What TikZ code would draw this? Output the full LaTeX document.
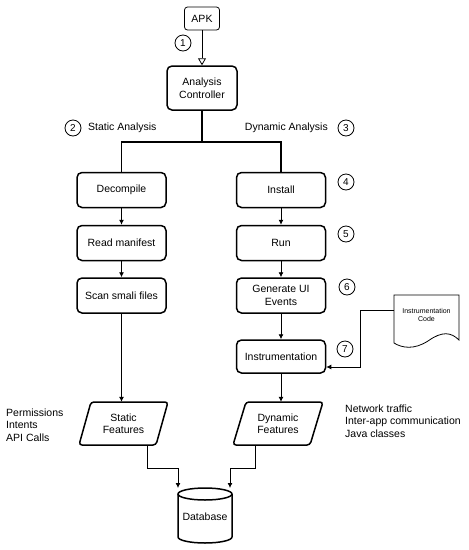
\documentclass[tikz,border=0pt]{standalone}
\usepackage{fontspec}
\setmainfont{Liberation Sans}
\usetikzlibrary{arrows.meta,shapes.geometric}
\begin{document}
\begin{tikzpicture}[x=1pt,y=-1pt,
 box/.style={draw,line width=1.5pt,rounded corners=5pt,minimum width=89pt,minimum height=35pt,align=center,inner sep=1pt,font=\fontsize{10.5}{12.5}\selectfont},
 num/.style={draw,circle,line width=0.8pt,minimum size=16pt,inner sep=0pt,font=\fontsize{10}{12}\selectfont},
 lbl/.style={font=\fontsize{10.5}{12.5}\selectfont},
 arr/.style={-{Latex[length=5pt,width=5pt]},line width=0.8pt},
 ln/.style={line width=1.5pt}]
\useasboundingbox (0,0) rectangle (469,550);

% top
\node[draw,line width=0.8pt,rounded corners=3pt,minimum width=35pt,minimum height=23pt,lbl] (apk) at (202,18.5) {APK};
\node[box,minimum width=70pt,minimum height=44pt] (ctrl) at (202,88) {Analysis\\Controller};
\draw[line width=0.8pt,-{Triangle[open,length=7pt,width=8pt]}] (apk) -- (ctrl);
\node[num] (n1) at (183,43) {1};

% branch
\coordinate (br) at (202,142);
\node[box] (dec) at (121.5,190) {Decompile};
\node[box] (rm) at (121.5,243) {Read manifest};
\node[box] (scan) at (121.5,295.5) {Scan smali files};
\node[box] (inst) at (281,190) {Install};
\node[box] (run) at (281,243) {Run};
\node[box] (gen) at (281,295.5) {Generate UI\\Events};
\node[box,minimum height=33pt] (instr) at (281,356.5) {Instrumentation};

\draw[ln] (ctrl.south) -- (br);
\draw[ln] (dec.north) |- (br) -| (inst.north);

\node[num] (n2) at (73,128) {2};
\node[lbl,anchor=west,inner sep=0pt] (sa) at (88,128) {Static Analysis};
\node[lbl,anchor=east,inner sep=0pt] (da) at (328,128) {Dynamic Analysis};
\node[num] (n3) at (346,128) {3};
\node[num] (n4) at (346,182) {4};
\node[num] (n5) at (346,234) {5};
\node[num] (n6) at (347,287) {6};
\node[num] (n7) at (345,349) {7};

\draw[arr] (dec) -- (rm);
\draw[arr] (rm) -- (scan);
\draw[arr] (inst) -- (run);
\draw[arr] (run) -- (gen);
\draw[arr] (gen) -- (instr);

% instrumentation code document
\draw[line width=0.8pt] (394,295) -- (459,295) -- (459,340)
  .. controls (451,332) and (442,331) .. (428,341)
  .. controls (414,350) and (402,348) .. (394,343) -- cycle;
\node[font=\fontsize{7}{8.5}\selectfont,align=center,inner sep=0pt] (ic) at (426.5,315) {Instrumentation\\Code};
\coordinate (docl) at (394,310);
\coordinate (c7) at (360,367);
\draw[arr] (docl) -| (c7) -- (c7 -| instr.east);

% features
\node[lbl,align=center,minimum width=77pt,minimum height=43pt,inner sep=0pt] (sf) at (123.5,423.5) {Static\\Features};
\draw[ln,rounded corners=3pt] (91,402) -- (168,402) -- (156,445) -- (79,445) -- cycle;
\node[lbl,align=center,minimum width=77pt,minimum height=43pt,inner sep=0pt] (df) at (278,423.5) {Dynamic\\Features};
\draw[ln,rounded corners=3pt] (246,402) -- (323,402) -- (310,445) -- (233,445) -- cycle;

\draw[arr] (scan) -- (scan |- sf.north);
\draw[arr] (instr) -- (instr |- df.north);

% database
\node[lbl,minimum width=54pt,minimum height=55pt,inner sep=0pt] (db) at (205,517) {Database};
\draw[ln] (205,494) ellipse [x radius=27pt, y radius=6pt];
\draw[ln] (178,494) -- (178,537) arc[start angle=180,end angle=360,x radius=27pt,y radius=6pt] -- (232,494);

\coordinate (s1) at (147,445);
\coordinate (s2) at (178,488);
\coordinate (d1) at (255,445);
\coordinate (d2) at (230,488);
\draw[arr] (s1) -- (147,468) -| (s2);
\draw[arr] (d1) -- (255,468) -| (d2);

% feature lists
\node[lbl,anchor=west,align=left,inner sep=0pt] (sl) at (6,425) {Permissions\\Intents\\API Calls};
\node[lbl,anchor=west,align=left,inner sep=0pt] (dl) at (345,421) {Network traffic\\Inter-app communication\\Java classes};
\end{tikzpicture}
\end{document}
